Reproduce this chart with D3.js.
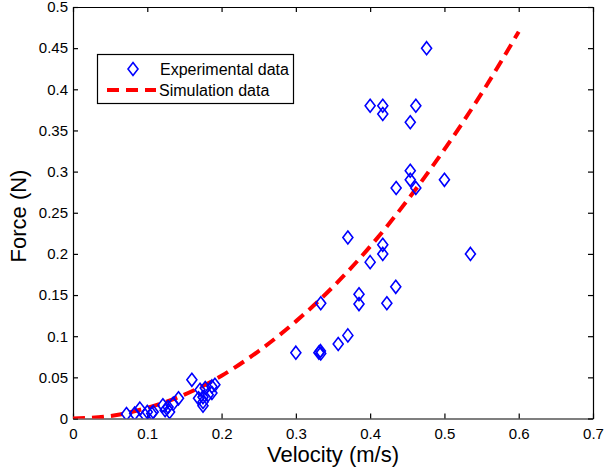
<!DOCTYPE html>
<html>
<head>
<meta charset="utf-8">
<script src="https://cdn.jsdelivr.net/npm/d3@7"></script>
<style>
  body { margin: 0; background: #fff; }
  text { font-family: "Liberation Sans", Arial, sans-serif; fill: #000; }
</style>
</head>
<body>
<script>
// Experimental points (velocity m/s, force N)
const expVelocity = [0.072, 0.083, 0.090, 0.097, 0.100, 0.106, 0.108, 0.121, 0.124, 0.128, 0.130, 0.135, 0.142,
  0.160, 0.169, 0.171, 0.175, 0.175, 0.175, 0.178, 0.182, 0.187, 0.187, 0.191,
  0.300, 0.331, 0.333, 0.3335, 0.357, 0.370, 0.3335, 0.385, 0.385, 0.4225, 0.4345, 0.370, 0.400, 0.417, 0.417, 0.535,
  0.435, 0.4615, 0.454, 0.454, 0.500, 0.454, 0.400, 0.417, 0.417, 0.4615, 0.476];
const expForce = [0.0055, 0.006, 0.012, 0.004, 0.008, 0.006, 0.008, 0.016, 0.010, 0.014, 0.008, 0.018, 0.0245,
  0.047, 0.0245, 0.035, 0.026, 0.020, 0.0155, 0.037, 0.029, 0.031, 0.039, 0.041,
  0.080, 0.080, 0.082, 0.140, 0.0905, 0.101, 0.079, 0.151, 0.139, 0.140, 0.160, 0.220, 0.190, 0.211, 0.200, 0.200,
  0.280, 0.280, 0.290, 0.301, 0.290, 0.360, 0.380, 0.380, 0.370, 0.380, 0.450];

// Simulation curve
const simVelocity = [0, 0.05, 0.1, 0.15, 0.2, 0.25, 0.3, 0.35, 0.4, 0.45, 0.5, 0.55, 0.6];
const simForce = [0, 0.003, 0.013, 0.029, 0.052, 0.082, 0.118, 0.160, 0.209, 0.265, 0.327, 0.395, 0.470];

const xTicks = [0, 0.1, 0.2, 0.3, 0.4, 0.5, 0.6, 0.7];
const yTicks = [0, 0.05, 0.1, 0.15, 0.2, 0.25, 0.3, 0.35, 0.4, 0.45, 0.5];

const W = 605, H = 469;
const plotLeft = 73, plotRight = 593, plotTop = 7, plotBottom = 418.5;

const svg = d3.select("body").append("svg")
  .attr("width", W).attr("height", H);

const x = d3.scaleLinear().domain([0, 0.7]).range([plotLeft, plotRight]);
const y = d3.scaleLinear().domain([0, 0.5]).range([plotBottom, plotTop]);

const fmt = d => d === 0 ? "0" : String(+d.toFixed(2));

// Axes (ticks inward, on all four sides)
const tickSize = 5;
svg.append("g").attr("transform", `translate(0,${plotBottom})`)
  .call(d3.axisBottom(x).tickValues(xTicks).tickFormat(fmt).tickSizeInner(-tickSize).tickSizeOuter(0).tickPadding(10));
svg.append("g").attr("transform", `translate(${plotLeft},0)`)
  .call(d3.axisLeft(y).tickValues(yTicks).tickFormat(fmt).tickSizeInner(-tickSize).tickSizeOuter(0).tickPadding(5));
svg.append("g").attr("transform", `translate(0,${plotTop})`)
  .call(d3.axisTop(x).tickValues(xTicks).tickFormat("").tickSizeInner(-tickSize).tickSizeOuter(0));
svg.append("g").attr("transform", `translate(${plotRight},0)`)
  .call(d3.axisRight(y).tickValues(yTicks).tickFormat("").tickSizeInner(-tickSize).tickSizeOuter(0));

svg.selectAll(".domain").attr("stroke", "#000").attr("stroke-width", 1.2);
svg.selectAll(".tick line").attr("stroke", "#000").attr("stroke-width", 1.2);
svg.selectAll(".tick text").style("font-size", "15px")
  .style("font-family", "'Liberation Sans', Arial, sans-serif").attr("fill", "#000");

// Clip for data
svg.append("clipPath").attr("id", "clip")
  .append("rect").attr("x", plotLeft).attr("y", plotTop)
  .attr("width", plotRight - plotLeft).attr("height", plotBottom - plotTop);

const plot = svg.append("g").attr("clip-path", "url(#clip)");

// Simulation line
const simData = simVelocity.map((v, i) => [v, simForce[i]]);
plot.append("path")
  .datum(simData)
  .attr("fill", "none")
  .attr("stroke", "#ff0000")
  .attr("stroke-width", 4)
  .attr("stroke-dasharray", "12,7")
  .attr("d", d3.line().x(d => x(d[0])).y(d => y(d[1])).curve(d3.curveMonotoneX));

// Experimental diamonds
const diamond = (cx, cy) => `M${cx},${cy - 6.5}L${cx + 5},${cy}L${cx},${cy + 6.5}L${cx - 5},${cy}Z`;
const expData = expVelocity.map((v, i) => [v, expForce[i]]);
plot.selectAll(".pt")
  .data(expData)
  .enter().append("path")
  .attr("class", "pt")
  .attr("d", d => diamond(x(d[0]), y(d[1])))
  .attr("fill", "none")
  .attr("stroke", "#0000ff")
  .attr("stroke-width", 1.6);

// Legend
const lg = svg.append("g");
lg.append("rect")
  .attr("x", 97.5).attr("y", 54.5).attr("width", 196).attr("height", 49)
  .attr("fill", "#fff").attr("stroke", "#000").attr("stroke-width", 1.2);
lg.append("path")
  .attr("d", diamond(133, 69))
  .attr("fill", "none").attr("stroke", "#0000ff").attr("stroke-width", 1.6);
lg.append("text").attr("x", 160).attr("y", 75).style("font-size", "16px").text("Experimental data");
lg.append("line")
  .attr("x1", 107).attr("x2", 156).attr("y1", 90).attr("y2", 90)
  .attr("stroke", "#ff0000").attr("stroke-width", 4).attr("stroke-dasharray", "12,7");
lg.append("text").attr("x", 159).attr("y", 96).style("font-size", "16px").text("Simulation data");

// Axis labels
svg.append("text")
  .attr("x", (plotLeft + plotRight) / 2).attr("y", 462)
  .attr("text-anchor", "middle").style("font-size", "22px")
  .text("Velocity (m/s)");
svg.append("text")
  .attr("transform", `translate(26,216) rotate(-90)`)
  .attr("text-anchor", "middle").style("font-size", "22px")
  .text("Force (N)");
</script>
</body>
</html>
